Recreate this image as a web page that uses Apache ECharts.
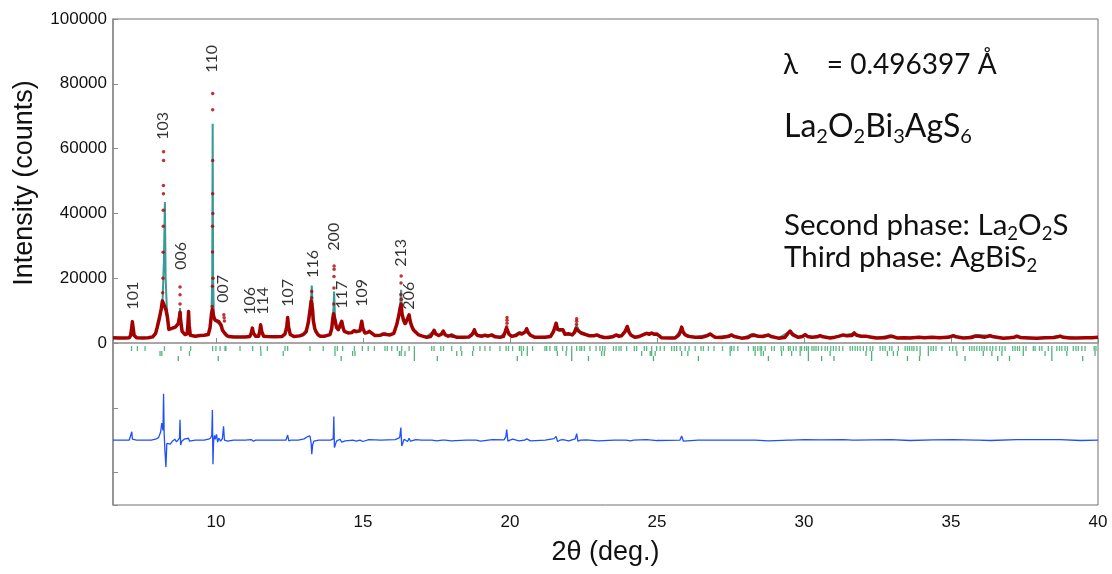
<!DOCTYPE html>
<html>
<head>
<meta charset="utf-8">
<title>La2O2Bi3AgS6 Rietveld refinement</title>
<script src="https://cdn.jsdelivr.net/npm/echarts@6.0.0/dist/echarts.min.js"></script>
<style>
  html, body { margin: 0; padding: 0; background: #ffffff; }
  #chart { width: 1112px; height: 574px; }
</style>
</head>
<body>
<div id="chart"></div>
<script>
// Observed intensity, dense part of the profile: [2theta (deg), counts]
const obsProfile = [
  [6.50,1600],[6.70,1550],[6.90,1550],[7.05,1650],[7.10,2300],[7.14,5000],[7.16,6600],[7.18,5000],[7.22,2300],[7.30,1650],
  [7.50,1550],[7.70,1600],[7.85,1900],[7.95,3000],[8.00,4700],[8.08,7800],[8.14,10500],[8.18,13000],[8.30,10300],[8.35,8000],
  [8.40,4200],[8.44,4100],[8.50,4500],[8.55,4700],[8.62,4900],[8.67,5100],[8.72,6000],[8.76,8000],[8.78,9500],[8.80,7000],
  [8.85,3600],[8.95,2600],[9.02,2800],[9.05,6000],[9.07,9700],[9.09,5500],[9.13,2400],[9.18,2000],[9.30,2100],[9.46,2300],
  [9.60,2400],[9.74,2600],[9.80,4700],[9.85,9000],[9.88,10300],[9.93,8000],[9.97,7100],[10.03,6700],[10.10,6600],[10.14,6700],
  [10.18,5500],[10.22,4000],[10.26,3500],[10.30,3000],[10.37,2300],[10.45,2000],[10.60,1850],[10.80,1850],[11.00,1850],[11.15,2000],
  [11.20,3000],[11.24,4600],[11.28,3000],[11.35,2100],[11.45,2100],[11.49,3500],[11.52,5600],[11.56,3500],[11.62,2100],[11.75,2000],
  [12.00,1950],[12.25,2000],[12.35,2800],[12.41,5000],[12.44,7900],[12.47,5000],[12.53,2600],[12.65,2000],[12.85,2200],[12.97,2600],
  [13.07,3500],[13.14,6200],[13.20,10000],[13.24,13000],[13.26,13500],[13.29,10000],[13.31,7100],[13.36,4500],[13.40,3600],[13.47,2600],
  [13.54,2100],[13.70,2100],[13.88,2600],[13.94,4500],[13.97,7200],[14.00,9000],[14.02,9000],[14.06,6700],[14.10,4800],[14.16,4100],
  [14.22,4600],[14.28,6700],[14.33,4500],[14.37,3600],[14.50,3100],[14.62,3200],[14.70,3800],[14.73,4200],[14.77,3500],[14.81,3100],
  [14.90,3800],[14.96,6700],[15.00,4500],[15.07,3100],[15.15,3200],[15.22,3600],[15.28,3000],[15.41,2300],[15.60,2400],[15.70,2800],
  [15.75,3100],[15.80,2600],[15.92,2500],[16.05,3000],[16.15,5700],[16.22,8500],[16.27,11000],[16.30,12000],[16.33,9000],[16.38,7100],
  [16.43,6000],[16.47,5700],[16.52,7500],[16.57,8700],[16.61,6600],[16.66,5200],[16.72,4000],[16.77,3600],[16.88,2600],[17.00,2200],
  [17.17,1750],[17.30,2000],[17.37,3000],[17.42,3900],[17.48,2800],[17.58,2300],[17.67,2700],[17.73,3700],[17.79,2600],[17.90,2100],
  [17.97,2300],[18.02,2900],[18.08,2100],[18.20,1750],[18.40,1750],[18.60,1850],[18.70,2500],[18.76,3300],[18.79,4100],[18.83,3000],
  [18.90,2300],[19.05,2100],[19.15,2400],[19.25,2100],[19.38,2500],[19.50,1900],[19.66,1750],[19.78,2050],[19.84,3500],[19.88,4600],
  [19.93,3600],[19.97,2700],[20.06,2050],[20.20,2300],[20.30,3000],[20.34,3500],[20.40,2800],[20.46,2900],[20.53,3500],[20.57,4400],
  [20.62,3200],[20.70,2400],[20.85,1750],[21.00,1750],[21.20,1800],[21.38,2000],[21.48,3500],[21.57,6100],[21.62,4200],[21.68,3600],
  [21.80,4100],[21.87,2700],[21.93,2500],[21.99,2900],[22.05,2600],[22.12,2500],[22.20,3300],[22.25,4500],[22.31,4200],[22.36,3500],
  [22.44,3000],[22.50,3300],[22.58,2600],[22.70,2250],[22.85,2200],[22.95,2500],[23.05,2100],[23.20,1700],[23.35,1700],[23.50,1900],
  [23.61,2500],[23.70,2100],[23.80,2250],[23.92,3600],[23.99,5100],[24.05,3300],[24.12,2400],[24.26,1750],[24.40,2000],[24.54,2600],
  [24.65,3000],[24.74,2700],[24.82,3100],[24.90,2700],[24.99,2800],[25.08,2200],[25.16,1600],[25.40,1550],[25.62,1550],[25.74,2400],
  [25.79,3300],[25.84,4900],[25.89,3400],[25.95,2600],[26.07,2050],[26.30,1750],[26.55,1800],[26.72,2300],[26.81,2800],[26.90,2200],
  [26.98,1750],[27.20,1700],[27.45,2100],[27.54,2500],[27.63,2000],[27.88,1500],[28.10,1700],[28.22,2400],[28.28,3000],[28.35,2300],
  [28.45,2050],[28.60,2000],[28.72,2300],[28.79,2500],[28.88,2000],[29.13,1500],[29.35,1700],[29.45,2900],[29.53,3700],[29.61,2600],
  [29.81,1750],[29.95,2000],[30.04,2600],[30.12,2000],[30.27,1750],[30.45,1900],[30.55,2250],[30.65,1900],[30.89,1550],[31.05,1800],
  [31.17,2050],[31.34,2500],[31.45,2200],[31.51,2050],[31.63,2300],[31.71,3100],[31.79,2400],[31.95,2100],[32.13,2050],[32.30,1800],
  [32.47,1550],[32.75,1600],[32.90,2000],[32.96,2500],[33.03,2000],[33.16,1550],[33.40,1600],[33.61,1550],[33.90,1750],[34.10,1650],
  [34.35,1750],[34.60,1600],[34.90,1750],[35.00,2000],[35.08,2250],[35.17,1900],[35.42,1550],[35.70,1700],[35.82,2100],[35.88,2600],
  [35.95,2100],[36.15,1800],[36.33,2250],[36.45,1900],[36.78,1450],[37.00,1600],[37.16,1800],[37.24,2100],[37.35,1700],[37.65,1550],
  [37.92,1450],[38.20,1600],[38.50,1700],[38.63,1900],[38.71,2150],[38.80,1800],[39.05,1550],[39.28,1550],[39.60,1600],[39.80,1650],
  [40.00,1750]
];

// Observed points on the steep flanks and tops of the strongest reflections
const obsPeakPoints = [
  [8.19,15500],[8.20,20000],[8.205,28000],[8.21,36000],[8.21,41000],[8.215,46100],[8.215,48600],[8.22,56300],[8.22,59000],
  [8.78,12000],[8.78,14900],[8.78,17300],
  [9.875,11300],[9.88,17500],[9.885,28100],[9.885,36000],[9.89,46100],[9.89,56300],[9.89,72000],[9.89,77000],[9.895,40000],[9.90,20000],
  [10.27,8700],[10.28,7800],[10.29,6800],
  [13.255,14000],[13.26,15900],[13.265,12000],
  [14.01,12000],[14.015,17000],[14.015,20500],[14.02,22800],[14.02,23800],
  [16.29,15000],[16.295,18500],[16.30,20700],[16.305,13500],
  [19.89,5000],[19.90,6100],[19.90,7000],[19.90,7900],
  [22.265,5800],[22.27,6700],[22.27,7500]
];

// Calculated profile: [2theta (deg), counts]
const calcProfile = [
  [6.50,1600],[6.90,1550],[7.05,1650],[7.10,2300],[7.14,4800],[7.16,6500],[7.18,4800],[7.22,2300],[7.30,1650],[7.50,1550],
  [7.70,1600],[7.85,1900],[7.95,3000],[8.00,4500],[8.08,7500],[8.14,10000],[8.19,14000],[8.23,25000],[8.265,43500],[8.29,20000],
  [8.315,19500],[8.33,11000],[8.37,6500],[8.42,4300],[8.50,4500],[8.62,4900],[8.72,5800],[8.76,7500],[8.78,10800],[8.80,7000],
  [8.85,3600],[8.95,2600],[9.02,2800],[9.05,6000],[9.07,9900],[9.09,5500],[9.13,2400],[9.30,2100],[9.60,2400],[9.74,2600],
  [9.80,4500],[9.85,9000],[9.875,20000],[9.89,67700],[9.905,20000],[9.93,8500],[9.97,6800],[10.03,6300],[10.10,6000],[10.14,5800],
  [10.20,4500],[10.26,3500],[10.30,3000],[10.37,2300],[10.45,2000],[10.80,1850],[11.15,2000],[11.20,3000],[11.24,4600],[11.28,3000],
  [11.35,2100],[11.45,2100],[11.49,3500],[11.52,5500],[11.56,3500],[11.62,2100],[12.00,1950],[12.25,2000],[12.35,2800],[12.41,5000],
  [12.44,7600],[12.47,5000],[12.53,2600],[12.65,2000],[12.85,2300],[12.97,2900],[13.07,4000],[13.14,6500],[13.20,10500],[13.24,14000],
  [13.26,17700],[13.29,11000],[13.31,7500],[13.36,4500],[13.40,3300],[13.47,2500],[13.54,2100],[13.70,2100],[13.88,2600],[13.94,4300],
  [13.97,6800],[14.00,11000],[14.02,15900],[14.05,8000],[14.10,4800],[14.16,4300],[14.22,4600],[14.28,6500],[14.33,4400],[14.37,3500],
  [14.50,3100],[14.62,3200],[14.70,3800],[14.73,4100],[14.77,3500],[14.81,3100],[14.90,3800],[14.96,6500],[15.00,4500],[15.07,3100],
  [15.22,3500],[15.41,2300],[15.60,2400],[15.75,3000],[15.92,2500],[16.05,3000],[16.15,5700],[16.22,8500],[16.27,12000],[16.30,16400],
  [16.33,9500],[16.38,7100],[16.47,5800],[16.52,7500],[16.57,8500],[16.61,6600],[16.66,5200],[16.77,3600],[16.88,2600],[17.00,2200],
  [17.17,2000],[17.42,3800],[17.48,2800],[17.58,2300],[17.73,3600],[17.79,2600],[17.90,2100],[18.02,2800],[18.20,1750],[18.60,1850],
  [18.79,4000],[18.90,2300],[19.15,2400],[19.38,2400],[19.66,1750],[19.84,3300],[19.90,4600],[19.97,2700],[20.06,2050],[20.34,3400],
  [20.46,2900],[20.57,4300],[20.70,2400],[20.85,1750],[21.38,2000],[21.57,5700],[21.68,3600],[21.80,4000],[21.93,2500],[21.99,2900],
  [22.12,2500],[22.27,5500],[22.36,3500],[22.50,3200],[22.70,2250],[22.95,2500],[23.20,1700],[23.61,2400],[23.80,2250],[23.99,5000],
  [24.12,2400],[24.26,1750],[24.65,3000],[24.82,3100],[24.99,2800],[25.16,1600],[25.62,1550],[25.84,4700],[25.95,2600],[26.30,1750],
  [26.81,2700],[26.98,1750],[27.54,2400],[27.88,1500],[28.28,2900],[28.45,2050],[28.79,2500],[29.13,1500],[29.53,3600],[29.81,1750],
  [30.04,2500],[30.27,1750],[30.55,2200],[30.89,1550],[31.34,2400],[31.71,3000],[31.95,2100],[32.47,1550],[32.96,2400],[33.16,1550],
  [33.90,1750],[34.60,1600],[35.08,2200],[35.42,1550],[35.88,2500],[36.33,2200],[36.78,1450],[37.24,2000],[37.92,1450],[38.71,2100],
  [39.28,1550],[40.00,1750]
];

// Observed minus calculated: [2theta (deg), counts]
const diffValues = [
  [6.50,0],[7.05,0],[7.10,300],[7.14,2600],[7.16,300],[7.20,-300],[7.30,0],[7.80,0],[7.95,300],[8.05,800],
  [8.12,2500],[8.16,5300],[8.20,3000],[8.22,14300],[8.24,2000],[8.265,-3000],[8.30,-8300],[8.33,-1000],[8.38,-400],[8.45,-1200],
  [8.52,-300],[8.60,300],[8.66,-500],[8.72,0],[8.76,600],[8.78,6300],[8.80,-1500],[8.84,-300],[8.92,300],[8.98,-300],
  [9.07,600],[9.10,-300],[9.30,0],[9.60,0],[9.75,300],[9.82,700],[9.86,1500],[9.88,9300],[9.90,-7400],[9.92,-500],
  [9.95,1500],[9.98,300],[10.02,1800],[10.06,-600],[10.10,600],[10.16,-300],[10.22,500],[10.26,4300],[10.29,0],[10.40,-300],
  [10.60,0],[11.00,0],[11.20,200],[11.24,600],[11.28,-300],[11.35,0],[11.48,0],[11.52,300],[11.56,0],[12.00,0],[12.38,0],[12.40,200],
  [12.44,1600],[12.48,-200],[12.55,0],[12.80,0],[13.00,400],[13.10,1000],[13.20,1300],[13.24,-1000],[13.26,-4300],[13.29,-1500],
  [13.33,-300],[13.50,0],[13.90,0],[13.95,300],[13.99,400],[14.01,7300],[14.03,-2300],[14.06,-1500],[14.10,-300],[14.22,300],
  [14.28,-600],[14.40,-200],[14.66,0],[14.70,500],[14.77,-300],[14.90,0],[14.96,500],[15.00,-400],[15.05,0],[15.20,200],[15.60,0],
  [16.10,200],[16.25,800],[16.29,3900],[16.32,-1800],[16.36,-800],[16.40,300],[16.52,-400],[16.57,600],[16.62,-300],[16.80,200],
  [17.00,0],[17.35,0],[17.40,300],[17.50,-200],[17.70,0],[17.73,300],[17.80,0],[18.00,-200],[18.50,0],[18.75,0],[18.79,300],
  [18.85,0],[19.00,-300],[19.40,200],[19.80,100],[19.86,1000],[19.89,3300],[19.93,-300],[20.00,0],[20.10,300],[20.30,-200],
  [20.50,0],[20.57,400],[20.70,-200],[21.20,0],[21.50,500],[21.57,1200],[21.62,-400],[21.70,0],[21.80,200],[22.00,-200],
  [22.22,400],[22.27,2000],[22.31,-300],[22.40,0],[22.60,100],[23.00,-200],[23.55,0],[23.61,100],[23.95,0],[23.99,400],
  [24.10,-200],[24.20,0],[24.65,200],[25.00,-100],[25.78,0],[25.84,1300],[25.90,-300],[25.96,0],[26.40,0],[26.75,0],[26.81,300],
  [26.88,0],[27.50,0],[27.54,200],[27.60,0],[28.24,0],[28.28,300],[28.34,0],[28.79,-200],[29.48,0],[29.53,300],[29.58,0],
  [30.04,200],[30.55,100],[31.34,200],[31.66,0],[31.71,300],[31.76,0],[32.96,200],[33.60,-100],[34.40,100],[35.08,200],
  [35.84,0],[35.88,300],[35.93,0],[36.33,-100],[37.24,200],[38.71,200],[39.40,-100],[40.00,0]
];

// Bragg reflection positions (deg) for La2O2Bi3AgS6, La2O2S and AgBiS2
const phase1Ticks = [
  7.13,7.33,7.59,8.25,8.81,9.14,9.89,10.00,10.14,10.31,10.34,10.82,11.25,11.52,11.75,12.35,12.44,13.20,13.65,14.05,
  14.13,14.31,14.71,14.98,15.18,15.39,15.75,15.83,15.98,16.17,16.32,16.57,16.75,17.34,17.42,17.65,17.74,18.02,18.33,18.76,
  18.98,19.15,19.32,19.66,19.87,19.95,20.09,20.32,20.38,20.46,20.59,20.77,21.19,21.25,21.36,21.53,21.59,21.79,21.93,22.10,
  22.27,22.38,22.44,22.53,22.72,22.93,23.06,23.15,23.23,23.52,23.61,23.71,23.78,23.97,24.23,24.31,24.57,24.65,24.82,24.99,
  25.11,25.25,25.50,25.59,25.67,25.79,25.96,26.09,26.30,26.50,26.58,26.75,26.94,27.23,27.49,27.54,27.62,27.75,28.11,28.28,
  28.34,28.43,28.51,28.56,28.68,28.90,28.99,29.22,29.30,29.47,29.53,29.64,29.73,29.87,29.92,30.02,30.09,30.15,30.27,30.34,
  30.41,30.49,30.60,30.72,30.80,30.91,31.00,31.09,31.20,31.32,31.57,31.65,31.74,31.82,31.91,32.02,32.13,32.25,32.34,32.59,
  32.68,32.76,32.91,32.99,33.21,33.44,33.52,33.59,33.67,33.74,33.84,33.95,34.23,34.32,34.40,34.49,34.69,34.95,35.06,35.17,
  35.42,35.63,35.71,35.79,35.88,35.97,36.05,36.13,36.22,36.33,36.42,36.53,36.65,36.74,36.84,37.10,37.18,37.26,37.33,37.46,
  37.55,37.80,37.86,38.01,38.09,38.31,38.43,38.60,38.69,38.77,38.88,38.96,39.16,39.25,39.33,39.45,39.56,39.87,39.93
];
const phase2Ticks = [
  8.10,8.16,9.10,11.53,12.29,14.05,14.65,14.73,16.24,16.30,16.43,16.75,18.19,18.36,18.73,20.40,20.59,21.61,21.91,22.10,
  23.12,23.21,24.48,24.77,24.82,24.94,25.84,26.05,27.49,28.34,28.54,28.62,29.24,29.58,29.87,30.15,30.89,32.11,32.30,32.84,
  33.04,33.18,33.95,34.23,35.20,36.10,36.39,36.73,37.46,38.20,38.43,38.94,39.90
];
const phase3Ticks = [
  8.72,10.08,14.26,16.75,17.53,20.25,22.10,22.67,24.88,26.41,28.79,30.15,30.60,31.02,32.30,33.52,33.93,35.48,36.59,36.99,
  38.43,39.48
];

// Miller indices of the labelled La2O2Bi3AgS6 reflections
const hklLabels   = ['101','103','006','110','007','106','114','107','116','200','117','109','213','206'];
const hklTwoTheta = [7.16, 8.21, 8.80, 9.86, 10.23, 11.14, 11.58, 12.43, 13.28, 14.01, 14.30, 14.97, 16.29, 16.57];
const hklLabelY   = [10300, 62700, 22600, 83400, 12400, 8700, 8700, 11200, 20100, 28500, 10600, 11200, 23500, 10300];

// Layout constants
const DIFF_OFFSET = -30000;                       // baseline of the difference curve
const TICK_ROWS = [[-950, -2450], [-2450, -4000], [-4000, -5550]];
const TICK_COLORS = ['#2ea563', '#27a05c', '#22995a'];

const diffCurve = diffValues.map(p => [p[0], p[1] + DIFF_OFFSET]);

function tickSeries(ticks, row, color) {
  return {
    type: 'custom',
    coordinateSystem: 'cartesian2d',
    silent: true,
    z: 2,
    data: ticks.map(t => [t, (TICK_ROWS[row][0] + TICK_ROWS[row][1]) / 2]),
    renderItem: function (params, api) {
      const x = api.value(0);
      const p1 = api.coord([x, TICK_ROWS[row][0]]);
      const p2 = api.coord([x, TICK_ROWS[row][1]]);
      return {
        type: 'line',
        shape: { x1: p1[0], y1: p1[1], x2: p2[0], y2: p2[1] },
        style: { stroke: color, lineWidth: 1.3, opacity: 0.8 }
      };
    }
  };
}

const chart = echarts.init(document.getElementById('chart'), null, { renderer: 'canvas' });

const axisGray = '#8a8a8a';
const textFont = 'Lato, "Noto Sans", sans-serif';

chart.setOption({
  animation: false,
  backgroundColor: '#ffffff',
  grid: {
    left: 113, right: 14, top: 19, bottom: 69,
    show: true, borderColor: '#707070', borderWidth: 1
  },
  xAxis: {
    type: 'value',
    min: 6.5, max: 40,
    name: '2θ (deg.)',
    nameLocation: 'middle',
    nameGap: 34,
    nameTextStyle: { fontFamily: '"Liberation Sans", Arial, sans-serif', fontSize: 27, color: '#111' },
    axisLine: { lineStyle: { color: axisGray, width: 1.5 } },
    axisTick: { inside: true, length: 5, lineStyle: { color: axisGray } },
    splitLine: { show: false },
    axisLabel: {
      formatter: v => (v % 5 === 0 ? String(v) : ''),
      fontFamily: '"Liberation Sans Narrow", "Liberation Sans", Arial, sans-serif',
      fontSize: 17, color: '#111', margin: 9
    }
  },
  yAxis: {
    type: 'value',
    min: -50000, max: 100000,
    splitNumber: 7,
    axisLine: { show: true, lineStyle: { color: axisGray, width: 1.5 } },
    axisTick: { show: true, inside: true, length: 5, lineStyle: { color: axisGray } },
    splitLine: { show: false },
    axisLabel: {
      formatter: v => (v >= 0 ? String(v) : ''),
      fontFamily: '"Liberation Sans", Arial, sans-serif',
      fontSize: 17, color: '#111', margin: 6
    }
  },
  series: [
    {
      name: 'Calculated',
      type: 'line',
      data: calcProfile,
      showSymbol: false,
      z: 2,
      lineStyle: { color: '#3a9a98', width: 2 }
    },
    {
      name: 'Observed',
      type: 'line',
      data: obsProfile,
      showSymbol: false,
      z: 3,
      lineStyle: { color: '#a30000', width: 3.5, join: 'round' }
    },
    {
      name: 'Observed peaks',
      type: 'scatter',
      data: obsPeakPoints,
      symbol: 'circle',
      symbolSize: 3.5,
      z: 4,
      itemStyle: { color: '#b00000' }
    },
    {
      name: 'Difference',
      type: 'line',
      data: diffCurve,
      showSymbol: false,
      z: 3,
      lineStyle: { color: '#1f4fff', width: 1.3 }
    },
    tickSeries(phase1Ticks, 0, TICK_COLORS[0]),
    tickSeries(phase2Ticks, 1, TICK_COLORS[1]),
    tickSeries(phase3Ticks, 2, TICK_COLORS[2]),
    {
      name: 'hkl',
      type: 'scatter',
      symbolSize: 0,
      silent: true,
      z: 5,
      data: hklTwoTheta.map((x, i) => ({ value: [x, hklLabelY[i]], name: hklLabels[i] })),
      label: {
        show: true,
        formatter: '{b}',
        position: 'inside',
        rotate: 90,
        align: 'left',
        verticalAlign: 'middle',
        fontFamily: textFont,
        fontSize: 16,
        color: '#000'
      }
    }
  ],
  graphic: [
    {
      type: 'text',
      x: 25, y: 183,
      rotation: Math.PI / 2,
      style: {
        text: 'Intensity (counts)',
        font: '27px "Liberation Sans", Arial, sans-serif',
        fill: '#111',
        align: 'center',
        verticalAlign: 'middle'
      }
    },
    {
      type: 'text',
      x: 783, y: 65,
      style: {
        text: 'λ    = 0.496397 Å',
        font: '28px ' + textFont,
        fill: '#111',
        align: 'left',
        verticalAlign: 'middle'
      }
    },
    {
      type: 'text',
      x: 784, y: 127,
      style: {
        text: 'La{s|2}O{s|2}Bi{s|3}AgS{s|6}',
        font: '32px ' + textFont,
        fill: '#111',
        align: 'left',
        verticalAlign: 'middle',
        rich: {
          s: { fontSize: 20, fontFamily: textFont, padding: [20, 0, 0, 0], fill: '#111' }
        }
      }
    },
    {
      type: 'text',
      x: 784, y: 225,
      style: {
        text: 'Second phase: La{s|2}O{s|2}S',
        font: '29.5px ' + textFont,
        fill: '#111',
        align: 'left',
        verticalAlign: 'middle',
        rich: {
          s: { fontSize: 18.5, fontFamily: textFont, padding: [18, 0, 0, 0], fill: '#111' }
        }
      }
    },
    {
      type: 'text',
      x: 784, y: 257,
      style: {
        text: 'Third phase: AgBiS{s|2}',
        font: '29.5px ' + textFont,
        fill: '#111',
        align: 'left',
        verticalAlign: 'middle',
        rich: {
          s: { fontSize: 18.5, fontFamily: textFont, padding: [18, 0, 0, 0], fill: '#111' }
        }
      }
    }
  ]
});
</script>
</body>
</html>
